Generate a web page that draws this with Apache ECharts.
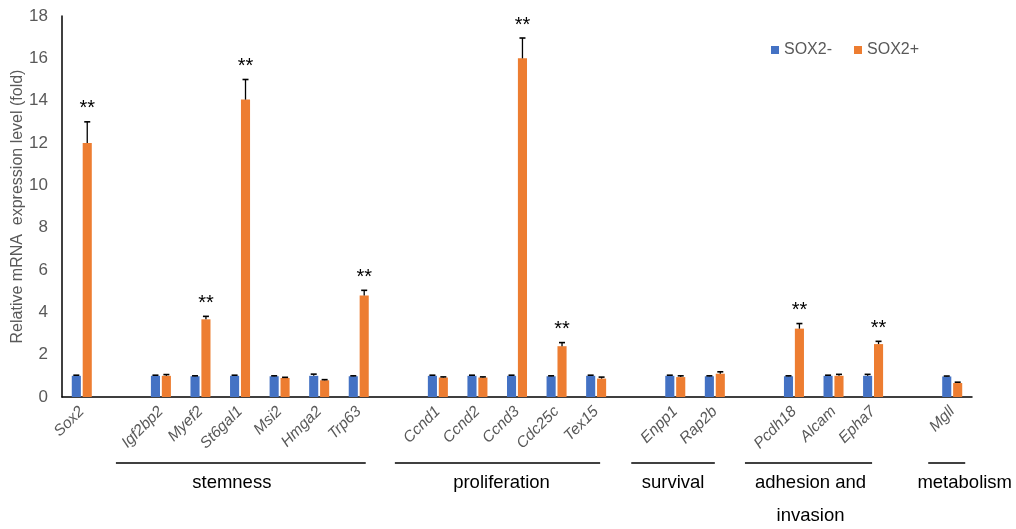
<!DOCTYPE html>
<html>
<head>
<meta charset="utf-8">
<script src="https://cdn.jsdelivr.net/npm/echarts@6/dist/echarts.min.js"></script>
<style>html,body{margin:0;padding:0;background:#fff}#c{width:1016px;height:529px}</style>
</head>
<body>
<div id="c"></div>
<script>
const categories = ['Sox2','','Igf2bp2','Myef2','St6gal1','Msi2','Hmga2','Trp63','','Ccnd1','Ccnd2','Ccnd3','Cdc25c','Tex15','','Enpp1','Rap2b','','Pcdh18','Alcam','Epha7','','Mgll'];
const sox2Neg    = [1.0,null,1.0,0.98,1.0,0.98,1.0,0.98,null,1.0,1.0,1.0,0.98,1.0,null,1.0,0.98,null,0.98,1.0,1.0,null,0.97];
const sox2NegErr = [0.03,null,0.03,0.02,0.03,0.02,0.08,0.02,null,0.03,0.03,0.03,0.02,0.03,null,0.03,0.02,null,0.02,0.03,0.07,null,0.02];
const sox2Pos    = [12.0,null,1.0,3.67,14.05,0.9,0.79,4.8,null,0.92,0.92,16.0,2.4,0.87,null,0.94,1.1,null,3.23,1.0,2.5,null,0.66];
const sox2PosErr = [1.0,null,0.06,0.14,0.95,0.03,0.03,0.24,null,0.03,0.03,0.96,0.17,0.07,null,0.06,0.09,null,0.24,0.07,0.13,null,0.04];
const significant = [true,false,false,true,true,false,false,true,false,false,false,true,true,false,false,false,false,false,true,false,true,false,false];
const seriesNames = ['SOX2-','SOX2+'];
const yMin = 0, yMax = 18, yStep = 2;
const groupNames = ['stemness','proliferation','survival','adhesion and\ninvasion','metabolism'];
const groupFirst = ['Igf2bp2','Ccnd1','Enpp1','Pcdh18','Mgll'];
const groupLast  = ['Trp63','Tex15','Rap2b','Epha7','Mgll'];

const BLUE = '#4472C4', ORANGE = '#ED7D31', GREY = '#595959';
const FONT = '"Liberation Sans", Arial, sans-serif';
const BAR_W = 0.23, BAR_GAP = 0.2;

function errSeries(values, errs, sideIdx, withStars) {
  const data = values.map((v, i) => v == null ? null : [i, v, errs[i], withStars && significant[i] ? 1 : 0]);
  return {
    type: 'custom',
    silent: true,
    z: 5,
    data: data,
    encode: { x: 0, y: 1 },
    renderItem: function (params, api) {
      const idx = api.value(0), v = api.value(1), e = api.value(2), s = api.value(3);
      const band = api.size([1, 0])[0];
      const bw = band * BAR_W, gap = bw * BAR_GAP;
      const off = (sideIdx === 0 ? -1 : 1) * (bw + gap) / 2;
      const base = api.coord([idx, v]);
      const top = api.coord([idx, v + e]);
      const x = base[0] + off;
      const children = [
        { type: 'line', shape: { x1: x, y1: base[1], x2: x, y2: top[1] }, style: { stroke: '#000', lineWidth: 1.3 } },
        { type: 'line', shape: { x1: x - 3, y1: top[1], x2: x + 3, y2: top[1] }, style: { stroke: '#000', lineWidth: 1.6 } }
      ];
      if (s) {
        children.push({ type: 'text', style: { text: '**', x: x, y: top[1] - 3, align: 'center', verticalAlign: 'bottom', font: '20px ' + FONT, fill: '#000' } });
      }
      return { type: 'group', children: children };
    }
  };
}

const chart = echarts.init(document.getElementById('c'));
chart.setOption({
  animation: false,
  backgroundColor: '#fff',
  textStyle: { fontFamily: FONT },
  grid: { left: 62, right: 44, top: 16, bottom: 132, containLabel: false, outerBoundsMode: 'none' },
  legend: {
    data: seriesNames, left: 766, top: 37, itemWidth: 8, itemHeight: 8, itemGap: 22,
    icon: 'rect', textStyle: { color: GREY, fontSize: 16, fontFamily: FONT }
  },
  xAxis: {
    type: 'category', data: categories,
    axisLine: { lineStyle: { color: '#000', width: 1.5 } },
    axisTick: { show: false },
    axisLabel: { interval: 0, rotate: 45, color: GREY, fontSize: 15.5, fontStyle: 'italic', fontFamily: FONT, margin: 12 }
  },
  yAxis: {
    type: 'value', min: yMin, max: yMax, interval: yStep,
    name: 'Relative mRNA  expression level (fold)', nameLocation: 'middle', nameGap: 36, nameRotate: 90,
    nameMoveOverlap: false,
    nameTextStyle: { color: GREY, fontSize: 16, fontFamily: FONT },
    axisLine: { show: true, lineStyle: { color: '#000', width: 1.5 } },
    axisTick: { show: false },
    splitLine: { show: false },
    axisLabel: { color: GREY, fontSize: 17, fontFamily: FONT, margin: 14 }
  },
  series: [
    { name: seriesNames[0], type: 'bar', data: sox2Neg, barWidth: (BAR_W * 100) + '%', barGap: (BAR_GAP * 100) + '%', itemStyle: { color: BLUE } },
    { name: seriesNames[1], type: 'bar', data: sox2Pos, barWidth: (BAR_W * 100) + '%', itemStyle: { color: ORANGE } },
    errSeries(sox2Neg, sox2NegErr, 0, false),
    errSeries(sox2Pos, sox2PosErr, 1, true)
  ]
});

// group brackets below the axis, placed from category positions
const startOff = [-45, -43, -44, -49, -24];
const endOff = [7, 4, 0, -1, 13];
const labelShift = [-9, 4, 0, 2, 18];
const graphics = [];
groupNames.forEach((g, k) => {
  const x1 = chart.convertToPixel({ xAxisIndex: 0 }, categories.indexOf(groupFirst[k])) + startOff[k];
  const x2 = chart.convertToPixel({ xAxisIndex: 0 }, categories.indexOf(groupLast[k])) + endOff[k];
  graphics.push({ type: 'line', shape: { x1: x1, y1: 463, x2: x2, y2: 463 }, style: { stroke: '#000', lineWidth: 1.3 } });
  graphics.push({ type: 'text', style: { text: g, x: (x1 + x2) / 2 + labelShift[k], y: 466, align: 'center', verticalAlign: 'top', font: '18.5px ' + FONT, fill: '#000', lineHeight: 33 } });
});
chart.setOption({ graphic: graphics });
</script>
</body>
</html>
